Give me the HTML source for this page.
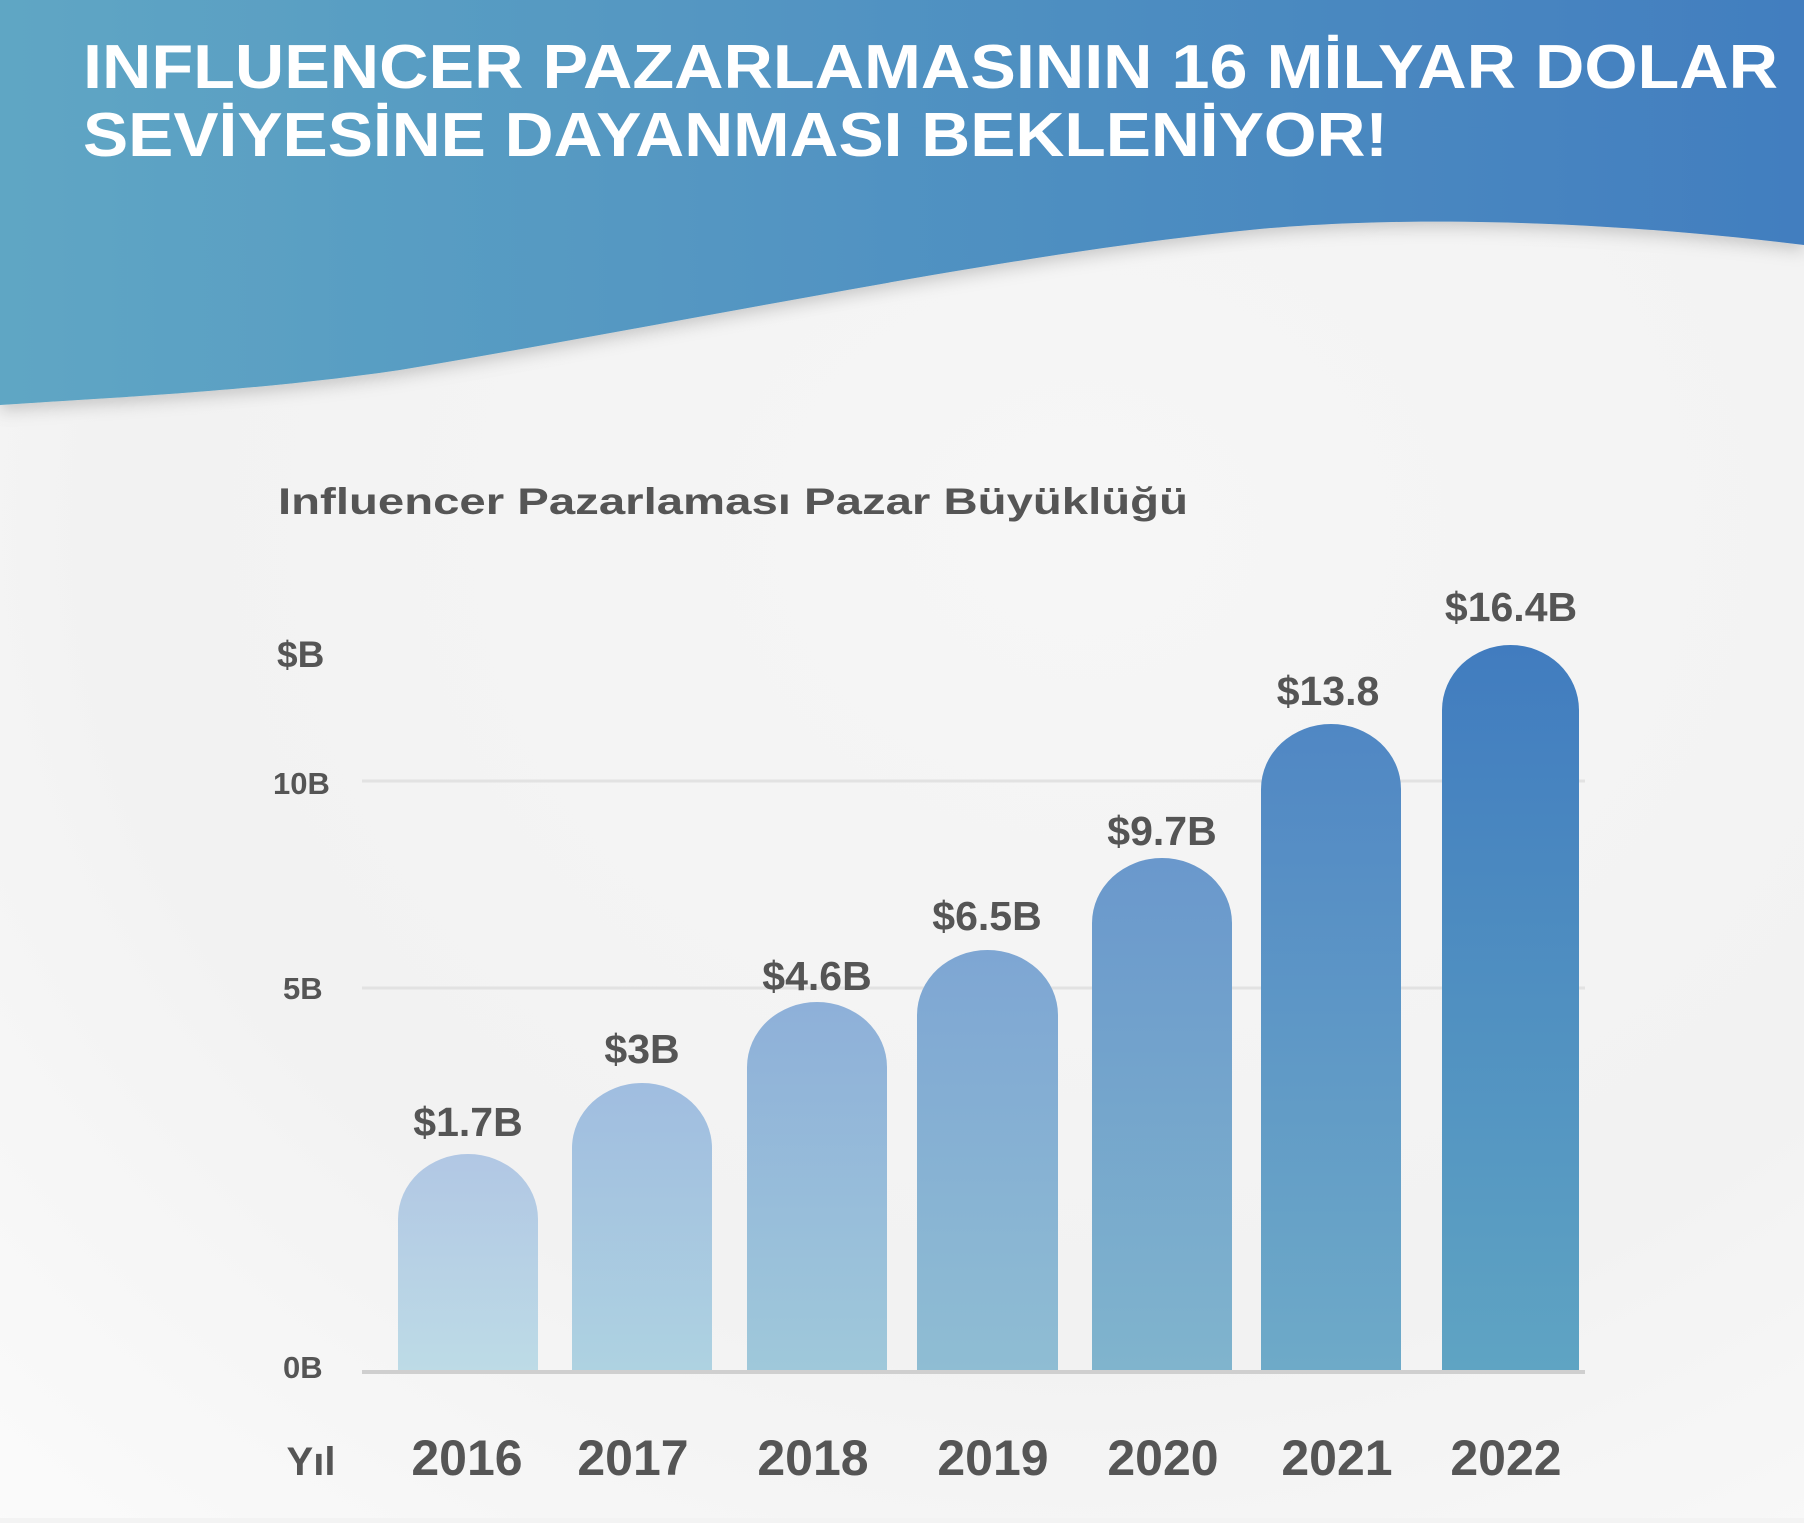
<!DOCTYPE html>
<html><head><meta charset="utf-8"><style>
html,body{margin:0;padding:0}
body{width:1804px;height:1518px;overflow:hidden;background:#f3f3f3}
</style></head><body>
<svg width="1804" height="1518" viewBox="0 0 1804 1518" xmlns="http://www.w3.org/2000/svg" font-family="Liberation Sans, sans-serif" font-weight="bold">
<defs>
<radialGradient id="bg" cx="0.6" cy="0.35" r="0.9">
<stop offset="0" stop-color="#f6f6f6"/><stop offset="0.6" stop-color="#f2f2f2"/><stop offset="1" stop-color="#fbfbfb"/>
</radialGradient>
<linearGradient id="hd" x1="0" x2="1" y1="0" y2="0">
<stop offset="0" stop-color="#5fa6c4"/><stop offset="1" stop-color="#427ebf"/>
</linearGradient>
<filter id="sh" x="-5%" y="-5%" width="110%" height="120%"><feDropShadow dx="0" dy="6" stdDeviation="8" flood-color="#000" flood-opacity="0.18"/></filter>
<linearGradient id="b1" x1="0" x2="0" y1="0" y2="1"><stop offset="0" stop-color="#b1c7e4"/><stop offset="1" stop-color="#bddbe6"/></linearGradient>
<linearGradient id="b2" x1="0" x2="0" y1="0" y2="1"><stop offset="0" stop-color="#a0bde0"/><stop offset="1" stop-color="#aed2e1"/></linearGradient>
<linearGradient id="b3" x1="0" x2="0" y1="0" y2="1"><stop offset="0" stop-color="#8eb0d9"/><stop offset="1" stop-color="#9fc8da"/></linearGradient>
<linearGradient id="b4" x1="0" x2="0" y1="0" y2="1"><stop offset="0" stop-color="#7ea6d3"/><stop offset="1" stop-color="#8fbdd3"/></linearGradient>
<linearGradient id="b5" x1="0" x2="0" y1="0" y2="1"><stop offset="0" stop-color="#6a98cc"/><stop offset="1" stop-color="#80b4cd"/></linearGradient>
<linearGradient id="b6" x1="0" x2="0" y1="0" y2="1"><stop offset="0" stop-color="#5087c4"/><stop offset="1" stop-color="#6eaac8"/></linearGradient>
<linearGradient id="b7" x1="0" x2="0" y1="0" y2="1"><stop offset="0" stop-color="#417cbf"/><stop offset="1" stop-color="#5fa4c3"/></linearGradient>
</defs>
<rect width="1804" height="1518" fill="url(#bg)"/>
<path d="M0,0 H1804 V245 C1600,220 1400,215 1250,230 C1000,255 700,320 400,370 C250,392 100,398 0,405 Z" fill="url(#hd)" filter="url(#sh)"/>
<g fill="#fff" font-size="62">
<text x="83" y="88" textLength="1695" lengthAdjust="spacingAndGlyphs">INFLUENCER PAZARLAMASININ 16 MİLYAR DOLAR</text>
<text x="83" y="156" textLength="1305" lengthAdjust="spacingAndGlyphs">SEVİYESİNE DAYANMASI BEKLENİYOR!</text>
</g>
<g fill="#555">
<text x="278" y="514" font-size="37" textLength="910" lengthAdjust="spacingAndGlyphs">Influencer Pazarlaması Pazar Büyüklüğü</text>
<text x="277" y="667" font-size="37">$B</text>
<text x="273" y="794" font-size="31">10B</text>
<text x="283" y="999" font-size="31">5B</text>
<text x="283" y="1378" font-size="31">0B</text>
</g>
<g stroke="#e2e2e2" stroke-width="3">
<line x1="362" y1="781" x2="1585" y2="781"/>
<line x1="362" y1="988" x2="1585" y2="988"/>
</g>
<g>
<path d="M398,1371 V1219 A70,65 0 0 1 538,1219 V1371 Z" fill="url(#b1)"/>
<path d="M572,1371 V1148 A70,65 0 0 1 712,1148 V1371 Z" fill="url(#b2)"/>
<path d="M747,1371 V1067 A70,65 0 0 1 887,1067 V1371 Z" fill="url(#b3)"/>
<path d="M917,1371 V1015 A70.5,65 0 0 1 1058,1015 V1371 Z" fill="url(#b4)"/>
<path d="M1092,1371 V923 A70,65 0 0 1 1232,923 V1371 Z" fill="url(#b5)"/>
<path d="M1261,1371 V789 A70,65 0 0 1 1401,789 V1371 Z" fill="url(#b6)"/>
<path d="M1442,1371 V710 A68.5,65 0 0 1 1579,710 V1371 Z" fill="url(#b7)"/>
</g>
<line x1="362" y1="1372" x2="1585" y2="1372" stroke="#cfcfcf" stroke-width="4"/>
<g fill="#555" font-size="41" text-anchor="middle">
<text x="468" y="1136">$1.7B</text>
<text x="642" y="1063">$3B</text>
<text x="817" y="990">$4.6B</text>
<text x="987" y="930">$6.5B</text>
<text x="1162" y="845">$9.7B</text>
<text x="1328" y="705">$13.8</text>
<text x="1511" y="621">$16.4B</text>
</g>
<g fill="#555" font-size="50" text-anchor="middle">
<text x="311" y="1475" font-size="40">Yıl</text>
<text x="467" y="1475">2016</text>
<text x="633" y="1475">2017</text>
<text x="813" y="1475">2018</text>
<text x="993" y="1475">2019</text>
<text x="1163" y="1475">2020</text>
<text x="1337" y="1475">2021</text>
<text x="1506" y="1475">2022</text>
</g>
</svg>
</body></html>
